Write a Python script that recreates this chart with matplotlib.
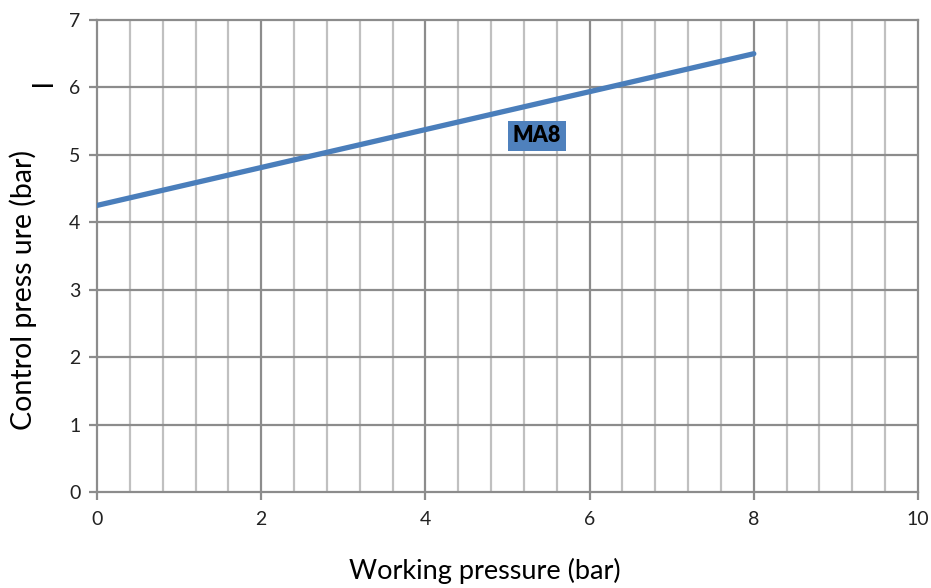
import matplotlib
matplotlib.use("Agg")
import matplotlib.pyplot as plt
import numpy as np

plt.rcParams['font.family'] = ['Lato', 'DejaVu Sans']

working_pressure = [0, 8]
control_pressure = [4.25, 6.5]
series_label = "MA8"
label_pos = (5.36, 5.28)
x_ticks = [0, 2, 4, 6, 8, 10]
y_ticks = [0, 1, 2, 3, 4, 5, 6, 7]

fig = plt.figure(figsize=(9.31, 5.88), dpi=100)
ax = fig.add_axes([97/931, 1-492/588, (918-97)/931, (492-20)/588])
ax.set_xlim(0, 10)
ax.set_ylim(0, 7)

major_c = '#8c8c8c'
minor_c = '#c0c0c0'
for xv in np.arange(0.4, 10, 0.4):
    if abs(xv/2 - round(xv/2)) > 1e-6:
        ax.axvline(xv, color=minor_c, lw=1.6, zorder=1)
for xv in x_ticks[1:-1]:
    ax.axvline(xv, color=major_c, lw=1.6, zorder=1)
for yv in y_ticks[1:-1]:
    ax.axhline(yv, color=major_c, lw=1.6, zorder=1)

for s in ax.spines.values():
    s.set_color(major_c)
    s.set_linewidth(1.6)

ax.plot(working_pressure, control_pressure, color='#4a7ebb', lw=3.8,
        solid_capstyle='round', zorder=3)
ax.text(label_pos[0], label_pos[1], series_label, fontsize=15.5, fontweight='heavy',
        color='black', ha='center', va='center', zorder=4,
        bbox=dict(boxstyle='square,pad=0.22', fc='#4f81bd', ec='none'))

ax.set_xticks(x_ticks)
ax.set_yticks(y_ticks)
ax.tick_params(axis='both', colors=major_c, labelcolor='#222222', labelsize=14,
               length=6, width=1.6, direction='out')
ax.tick_params(axis='x', pad=8)
ax.tick_params(axis='y', pad=6)

fig.text(485/931, 1-571/588, "Working pressure (bar)", fontsize=19.5,
         ha='center', va='center', color='black')
fig.text(23/931, 1-290/588, "Control press ure (bar)", fontsize=20.5,
         rotation=90, ha='center', va='center', color='black')
fig.text(44/931, 1-83/588, "l", fontsize=20, rotation=90,
         ha='center', va='center', color='black')

fig.savefig("out.png", dpi=100)
